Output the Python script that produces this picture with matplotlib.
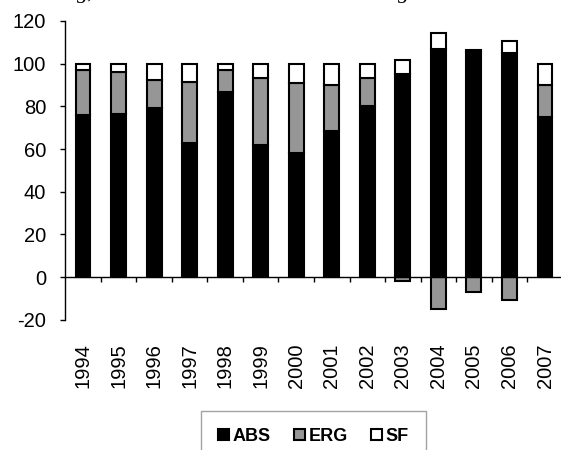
import matplotlib
matplotlib.use("Agg")
import matplotlib.pyplot as plt
import numpy as np

plt.rcParams['font.family'] = ['Liberation Sans', 'DejaVu Sans']

years = [str(y) for y in range(1994, 2008)]
abs_vals = [76, 76.5, 79, 63, 86.5, 62, 58, 68.5, 80, 95, 107, 105.5, 105, 75]
erg_vals = [21, 19.5, 13.5, 28.5, 10.5, 31.5, 33, 21.5, 13.5, -2, -15, -7, -11, 15]
sf_vals = [3, 4, 7.5, 8.5, 3, 6.5, 9, 10, 6.5, 6.7, 7.5, 1, 5.5, 10]
series_names = ["ABS", "ERG", "SF"]
yticks = [-20, 0, 20, 40, 60, 80, 100, 120]

a = np.array(abs_vals, dtype=float)
e = np.array(erg_vals, dtype=float)
s = np.array(sf_vals, dtype=float)
erg_bottom = np.where(e >= 0, a, 0)
sf_bottom = a + np.maximum(e, 0)

fig = plt.figure(figsize=(5.61, 4.5), dpi=100)
ax = fig.add_axes([65.2/561, 1 - 319.7/450, (562.8 - 65.2)/561, (319.7 - 21)/450])

x = np.arange(len(years))
w = 0.42
lw = 1.5
b1 = ax.bar(x, a, width=w, color='black', edgecolor='black', linewidth=lw, label=series_names[0])
b2 = ax.bar(x, e, width=w, bottom=erg_bottom, color='#969696', edgecolor='black', linewidth=lw, label=series_names[1])
b3 = ax.bar(x, s, width=w, bottom=sf_bottom, color='white', edgecolor='black', linewidth=lw, label=series_names[2])

ax.set_xlim(-0.5, len(years) - 0.5)
ax.set_ylim(-20, 120)
ax.set_yticks(yticks)
ax.set_yticklabels([str(t) for t in yticks], fontsize=14.5)
ax.tick_params(axis='y', direction='out', length=3.8, width=1, pad=10)

ax.spines['top'].set_visible(False)
ax.spines['right'].set_visible(False)
ax.spines['bottom'].set_position(('data', 0))
ax.spines['left'].set_linewidth(1)
ax.spines['bottom'].set_linewidth(1)

ax.set_xticks(x)
ax.set_xticklabels(years, rotation=90, fontsize=14.5)
ax.set_xticks(np.arange(0.5, len(years) - 1, 1), minor=True)
ax.tick_params(axis='x', which='major', length=0, pad=47.5)
ax.tick_params(axis='x', which='minor', direction='out', length=3.6, width=1)

leg = fig.legend(handles=[b1, b2, b3], loc='upper left',
                 bbox_to_anchor=(201/561, 1 - 410.7/450), borderaxespad=0,
                 ncol=3, frameon=True, fancybox=False,
                 prop={'weight': 'bold', 'size': 13},
                 handlelength=0.6, handleheight=0.6, handletextpad=0.2,
                 columnspacing=1.3, borderpad=0.95)
leg.get_frame().set_edgecolor('#8c8c8c')
leg.get_frame().set_linewidth(1)

# cut-off caption text at the very top of the reference
fig.text(77/561, 1 + 1.5/450, "g,", fontsize=16, family='Liberation Serif', style='italic', va='baseline')
fig.text(398/561, 1 + 1.5/450, "g", fontsize=16, family='Liberation Serif', style='italic', va='baseline')

fig.savefig("out.png", dpi=100)
